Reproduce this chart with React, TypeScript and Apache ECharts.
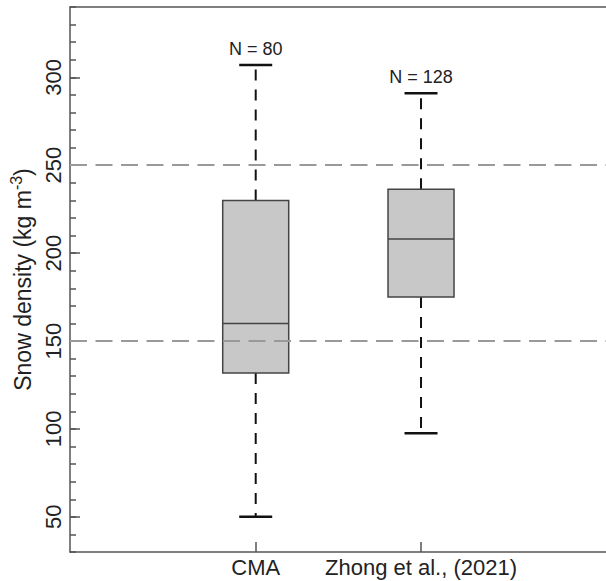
import React, { useEffect, useRef } from "react";
import * as echarts from "echarts";

const categories = ["CMA", "Zhong et al., (2021)"];
const whiskerLow = [50, 97.5];
const q1Values = [131.8, 175];
const medianValues = [160, 208];
const q3Values = [230, 236.4];
const whiskerHigh = [307, 291];
const nCounts = [80, 128];
const refLines = [150, 250];
const yMajorTicks = [50, 100, 150, 200, 250, 300];

const FONT = "'Liberation Sans', Arial, Helvetica, sans-serif";
const TEXT = "#222";
const AXIS = "#555";

export default function App() {
  const ref = useRef<HTMLDivElement>(null);
  useEffect(() => {
    document.body.style.margin = "0";
    const chart = echarts.init(ref.current!, null, { renderer: "svg" });
    const boxData = categories.map((_, i) => [
      i,
      whiskerLow[i],
      q1Values[i],
      medianValues[i],
      q3Values[i],
      whiskerHigh[i],
      nCounts[i],
    ]);
    const xMin = -1.1234;
    const xMax = 2.119;
    const option: any = {
      animation: false,
      textStyle: { fontFamily: FONT },
      grid: { left: 70, right: 0, top: 7, bottom: 29 },
      xAxis: [
        {
          type: "value",
          position: "bottom",
          min: xMin,
          max: xMax,
          splitLine: { show: false },
          axisLine: { show: true, onZero: false, lineStyle: { color: AXIS, width: 1.5 } },
          axisTick: {
            show: true,
            inside: true,
            length: 10,
            customValues: [0, 1],
            lineStyle: { color: AXIS, width: 1.5 },
          },
          axisLabel: {
            show: true,
            customValues: [0, 1],
            formatter: (v: number) => categories[Math.round(v)] ?? "",
            color: TEXT,
            fontSize: 22,
            fontFamily: FONT,
            margin: 4,
          },
        },
        {
          type: "value",
          position: "top",
          min: xMin,
          max: xMax,
          splitLine: { show: false },
          axisLine: { show: true, onZero: false, lineStyle: { color: AXIS, width: 1.5 } },
          axisTick: { show: false },
          axisLabel: { show: false },
        },
      ],
      yAxis: [
        {
          type: "value",
          position: "left",
          min: 30,
          max: 340,
          interval: 10,
          splitLine: { show: false },
          axisLine: { show: true, onZero: false, lineStyle: { color: AXIS, width: 1.5 } },
          axisTick: {
            show: true,
            inside: true,
            length: 10,
            customValues: yMajorTicks,
            lineStyle: { color: AXIS, width: 1.5 },
          },
          axisLabel: {
            show: true,
            customValues: yMajorTicks,
            formatter: (v: number) => (v % 50 === 0 ? String(v) : ""),
            rotate: 90,
            color: TEXT,
            fontSize: 22,
            fontFamily: FONT,
            margin: 6,
          },
          name: "{a|Snow density (kg m}{s|-3}{a|)}",
          nameLocation: "middle",
          nameRotate: 90,
          nameGap: 22,
          nameTextStyle: {
            rich: {
              a: { fontSize: 23, color: TEXT, fontFamily: FONT, lineHeight: 28 },
              s: { fontSize: 16, color: TEXT, fontFamily: FONT, lineHeight: 16, verticalAlign: "top" },
            },
          },
        },
        {
          type: "value",
          position: "left",
          min: 30,
          max: 340,
          interval: 10,
          splitLine: { show: false },
          axisLine: { show: false, onZero: false },
          axisTick: { show: true, inside: true, length: 6, lineStyle: { color: AXIS, width: 1.5 } },
          axisLabel: { show: false },
        },
      ],
      series: [
        {
          type: "line",
          xAxisIndex: 0,
          yAxisIndex: 0,
          data: [],
          markLine: {
            silent: true,
            symbol: "none",
            label: { show: false },
            lineStyle: { color: "#999", width: 2, type: [17, 8.5] },
            data: refLines.map((v) => ({ yAxis: v })),
          },
        },
        {
          type: "custom",
          xAxisIndex: 0,
          yAxisIndex: 0,
          data: boxData,
          renderItem: (params: any, api: any) => {
            const x = api.value(0);
            const lo = api.coord([x, api.value(1)]);
            const q1 = api.coord([x, api.value(2)]);
            const med = api.coord([x, api.value(3)]);
            const q3 = api.coord([x, api.value(4)]);
            const hi = api.coord([x, api.value(5)]);
            const n = api.value(6);
            const cx = lo[0];
            const bw = 66;
            const cw = 33;
            const whiskerStyle = { stroke: "#111", lineWidth: 2, lineDash: [11, 9] };
            const capStyle = { stroke: "#111", lineWidth: 2.5 };
            return {
              type: "group",
              children: [
                { type: "line", shape: { x1: cx, y1: q3[1], x2: cx, y2: hi[1] }, style: whiskerStyle },
                { type: "line", shape: { x1: cx, y1: q1[1], x2: cx, y2: lo[1] }, style: whiskerStyle },
                { type: "line", shape: { x1: cx - cw / 2, y1: hi[1], x2: cx + cw / 2, y2: hi[1] }, style: capStyle },
                { type: "line", shape: { x1: cx - cw / 2, y1: lo[1], x2: cx + cw / 2, y2: lo[1] }, style: capStyle },
                {
                  type: "rect",
                  shape: { x: cx - bw / 2, y: q3[1], width: bw, height: q1[1] - q3[1] },
                  style: { fill: "#c8c8c8", stroke: "#444", lineWidth: 1.5 },
                },
                {
                  type: "line",
                  shape: { x1: cx - bw / 2, y1: med[1], x2: cx + bw / 2, y2: med[1] },
                  style: { stroke: "#444", lineWidth: 1.5 },
                },
                {
                  type: "text",
                  style: {
                    text: "N = " + n,
                    x: cx,
                    y: hi[1] - 7,
                    align: "center",
                    verticalAlign: "bottom",
                    fontSize: 18,
                    fontFamily: FONT,
                    fill: TEXT,
                  },
                },
              ],
            };
          },
        },
      ],
    };
    chart.setOption(option);
    return () => chart.dispose();
  }, []);
  return (
    <div
      ref={ref}
      style={{ position: "absolute", left: 0, top: 0, width: 606, height: 581, background: "#fff" }}
    />
  );
}
